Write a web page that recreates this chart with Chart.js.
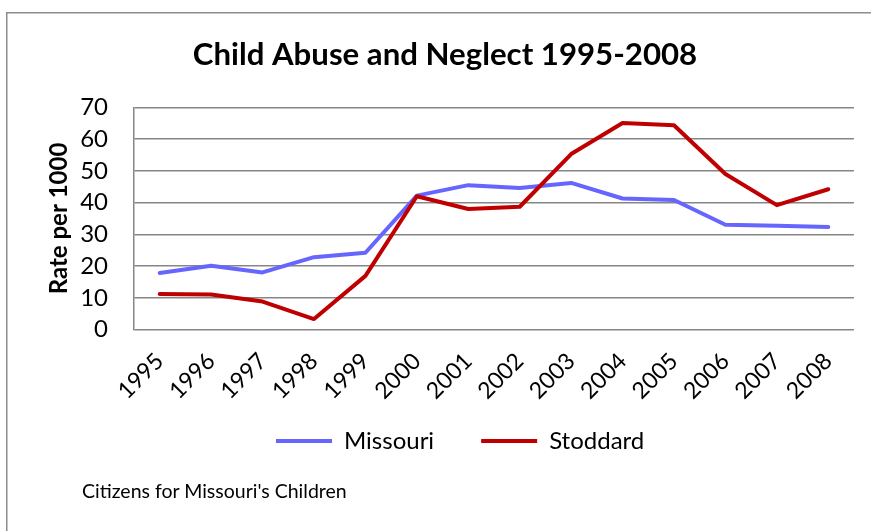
<!DOCTYPE html>
<html>
<head>
    <title>Child Abuse and Neglect 1995-2008</title>
    <script src="https://cdn.jsdelivr.net/npm/chart.js"></script>
    <style>
        body { margin: 0; background: #fff; overflow: hidden; }
        #wrap { position: relative; width: 871px; height: 531px; overflow: hidden; }
        #source { position: absolute; left: 82px; top: 479px; font: 19.5px Lato, sans-serif; color: #000; }
        canvas { position: absolute; left: 0; top: 0; }
    </style>
</head>
<body>
    <div id="wrap">
        <canvas id="abuseChart" width="871" height="531"></canvas>
        <div id="source">Citizens for Missouri's Children</div>
    </div>

    <script>
        // values (rate per 1000 children)
        const years = ['1995', '1996', '1997', '1998', '1999', '2000', '2001',
                       '2002', '2003', '2004', '2005', '2006', '2007', '2008'];
        const missouri = [17.8, 20.1, 18.0, 22.8, 24.2, 42.2, 45.5, 44.6, 46.2, 41.3, 40.8, 33.0, 32.7, 32.3];
        const stoddard = [11.2, 11.0, 8.8, 3.3, 16.9, 42.0, 38.0, 38.7, 55.3, 65.1, 64.4, 49.0, 39.2, 44.2];

        Chart.defaults.font.family = 'Lato, sans-serif';
        Chart.defaults.color = '#000';

        const legendPad = 47;
        const legendFont = 24;

        // put the legend where the original has it (left of centre, y ~441)
        const legendShift = {
            id: 'legendShift',
            afterLayout(chart) {
                const lg = chart.legend;
                const w = lg.right - lg.left;
                const h = lg.bottom - lg.top;
                lg.left = 276 - legendPad;
                lg.right = lg.left + w;
                lg.top = 441 - legendPad - legendFont / 2;
                lg.bottom = lg.top + h;
            }
        };

        // the chart-object border (only top and left edges show in the crop)
        const frame = {
            id: 'frame',
            beforeDraw(chart) {
                const c = chart.ctx;
                c.save();
                c.strokeStyle = '#8c8c8c';
                c.lineWidth = 1.5;
                c.beginPath();
                c.moveTo(6.75, chart.height);
                c.lineTo(6.75, 12.75);
                c.lineTo(chart.width, 12.75);
                c.stroke();
                c.restore();
            }
        };

        const ctx = document.getElementById('abuseChart').getContext('2d');
        new Chart(ctx, {
            type: 'line',
            data: {
                labels: years,
                datasets: [
                    {
                        label: 'Missouri',
                        data: missouri,
                        borderColor: '#6666ff',
                        backgroundColor: '#6666ff',
                        borderWidth: 4,
                        pointRadius: 0,
                        tension: 0,
                        borderJoinStyle: 'round',
                        borderCapStyle: 'round',
                        order: 1
                    },
                    {
                        label: 'Stoddard',
                        data: stoddard,
                        borderColor: '#c00000',
                        backgroundColor: '#c00000',
                        borderWidth: 4,
                        pointRadius: 0,
                        tension: 0,
                        borderJoinStyle: 'round',
                        borderCapStyle: 'round',
                        order: 0
                    }
                ]
            },
            options: {
                responsive: false,
                animation: false,
                layout: { padding: { left: 36, right: 17, top: 0, bottom: 47.5 } },
                plugins: {
                    title: {
                        display: true,
                        text: 'Child Abuse and Neglect 1995-2008',
                        font: { size: 31.2, weight: 'bold' },
                        color: '#000',
                        padding: { top: 36, bottom: 34 }
                    },
                    legend: {
                        position: 'bottom',
                        align: 'start',
                        labels: {
                            usePointStyle: true,
                            pointStyle: 'line',
                            pointStyleWidth: 56,
                            padding: legendPad,
                            font: { size: legendFont },
                            color: '#000',
                            sort: (a, b) => a.datasetIndex - b.datasetIndex
                        }
                    },
                    tooltip: { enabled: false }
                },
                scales: {
                    x: {
                        offset: true,
                        grid: { display: false },
                        border: { display: false },
                        ticks: {
                            font: { size: 23 },
                            minRotation: 45,
                            maxRotation: 45,
                            autoSkip: false,
                            padding: 10
                        },
                        afterFit: scale => { scale.height = 73; }
                    },
                    y: {
                        min: 0,
                        max: 70,
                        ticks: { stepSize: 10, font: { size: 24 }, padding: 26, autoSkip: false },
                        grid: { color: '#868686', lineWidth: 1.5, drawTicks: false },
                        border: { color: '#868686', width: 1.5 },
                        title: {
                            display: true,
                            text: 'Rate per 1000',
                            font: { size: 24, weight: 'bold' },
                            padding: { top: 9, bottom: 0 }
                        },
                        afterFit: scale => { scale.width = 98; }
                    }
                }
            },
            plugins: [legendShift, frame]
        });
    </script>
</body>
</html>
